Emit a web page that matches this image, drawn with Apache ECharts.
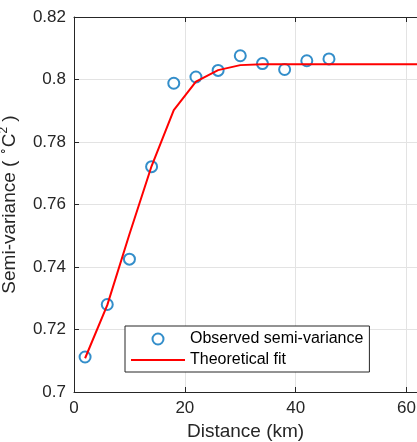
<!DOCTYPE html>
<html>
<head>
<meta charset="utf-8">
<script src="https://cdn.jsdelivr.net/npm/echarts@6/dist/echarts.min.js"></script>
<style>html,body{margin:0;padding:0;background:#fff;}#c{width:417px;height:442px;}</style>
</head>
<body>
<div id="c"></div>
<script>
// Observed semi-variance
const distances = [2, 6, 10, 14, 18, 22, 26, 30, 34, 38, 42, 46];
const observed = [0.7112, 0.7280, 0.7425, 0.7721, 0.7988, 0.8008, 0.8029, 0.8076, 0.8051, 0.8032, 0.8060, 0.8066];
// Theoretical fit
const fitX = [2, 6, 10, 14, 18, 22, 26, 30, 34, 38, 42, 46, 50, 54, 58, 62, 66, 70];
const fitY = [0.7108, 0.7278, 0.7505, 0.7723, 0.7902, 0.7993, 0.8030, 0.8046, 0.8049, 0.8049, 0.8049, 0.8049, 0.8049, 0.8049, 0.8049, 0.8049, 0.8049, 0.8049];
const xTicks = [0, 20, 40, 60];
const yTicks = [0.7, 0.72, 0.74, 0.76, 0.78, 0.8, 0.82];

const FONT = '"Liberation Sans", Arial, sans-serif';
const AX = '#262626';
const chart = echarts.init(document.getElementById('c'), null, {renderer: 'canvas'});
chart.setOption({
  animation: false,
  backgroundColor: '#fff',
  grid: {left: 74, top: 17, bottom: 50, right: -45, containLabel: false, outerBoundsMode: 'none'},
  xAxis: [{
    type: 'value', min: 0, max: 70, interval: 20, position: 'bottom',
    axisLine: {show: true, lineStyle: {color: AX, width: 1}},
    axisTick: {show: true, inside: true, length: 5, lineStyle: {color: AX}},
    axisLabel: {color: AX, fontFamily: FONT, fontSize: 17, margin: 8,
      formatter: v => xTicks.includes(v) ? String(v) : ''},
    splitLine: {show: true, lineStyle: {color: '#e3e3e3', width: 1}}
  }, {
    type: 'value', min: 0, max: 70, interval: 20, position: 'top',
    axisLine: {show: true, lineStyle: {color: AX, width: 1}},
    axisTick: {show: true, inside: true, length: 5, lineStyle: {color: AX}},
    axisLabel: {show: false},
    splitLine: {show: false}
  }],
  yAxis: {
    type: 'value', min: 0.7, max: 0.82, interval: 0.02,
    axisLine: {show: true, lineStyle: {color: AX, width: 1}},
    axisTick: {show: true, inside: true, length: 5, lineStyle: {color: AX}},
    axisLabel: {color: AX, fontFamily: FONT, fontSize: 17, margin: 8,
      formatter: v => {
        const r = parseFloat(v.toFixed(2));
        return yTicks.some(t => Math.abs(t - r) < 1e-9) ? String(r) : '';
      }},
    splitLine: {show: true, lineStyle: {color: '#e3e3e3', width: 1}},
    name: 'Semi-variance ( {sup|∘}C{sup|2} )',
    nameLocation: 'middle', nameRotate: 90, nameGap: 44,
    nameTextStyle: {color: AX, fontFamily: FONT, fontSize: 19, lineHeight: 24,
      rich: {sup: {fontFamily: FONT, fontSize: 12, color: AX, verticalAlign: 'top', lineHeight: 12}}}
  },
  legend: {
    orient: 'vertical', left: 125, top: 326,
    padding: [5, 6, 4, 6], itemGap: 5, itemWidth: 54, itemHeight: 11,
    borderColor: AX, borderWidth: 1, backgroundColor: '#fff',
    textStyle: {color: '#000', fontFamily: FONT, fontSize: 16},
    data: [
      {name: 'Observed semi-variance'},
      {name: 'Theoretical fit', icon: 'path://M0,0L27,0L27,1L0,1Z', itemStyle: {color: '#FF0000'}}
    ]
  },
  graphic: [{
    type: 'text', left: 187, top: 422,
    style: {text: 'Distance (km)', fill: AX, font: '19px ' + FONT}
  }],
  series: [{
    name: 'Observed semi-variance', type: 'scatter',
    data: distances.map((d, i) => [d, observed[i]]),
    symbol: 'emptyCircle', symbolSize: 11,
    itemStyle: {color: '#0072BD', borderColor: '#0072BD', borderWidth: 2},
    z: 3
  }, {
    name: 'Theoretical fit', type: 'line',
    data: fitX.map((d, i) => [d, fitY[i]]),
    symbol: 'none', lineStyle: {color: '#FF0000', width: 2},
    itemStyle: {color: '#FF0000'},
    z: 4
  }]
});
</script>
</body>
</html>
